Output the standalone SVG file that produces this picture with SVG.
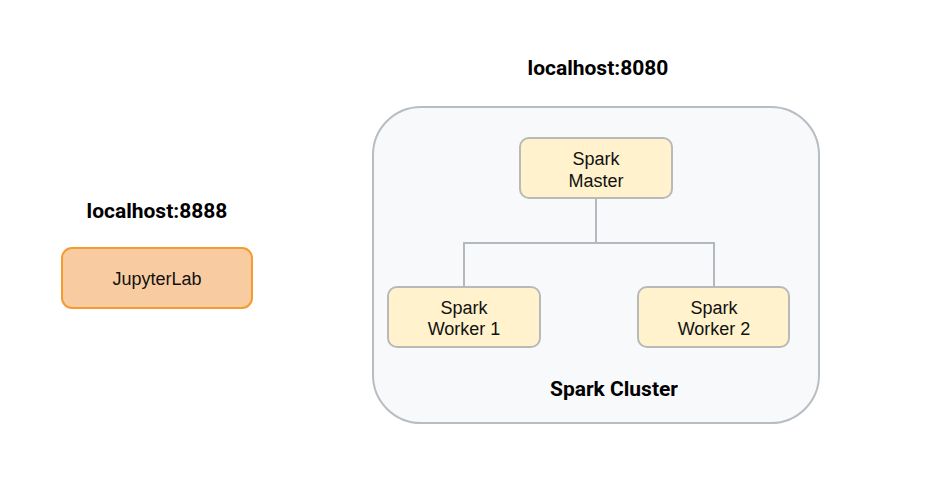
<svg xmlns="http://www.w3.org/2000/svg" width="931" height="495" viewBox="0 0 931 495">
<style>
.node{fill:#fff2cc;stroke:#b9b9b9;stroke-width:2}
.nt{font-family:"Liberation Sans",Arial,sans-serif;font-size:18px;fill:#111;text-anchor:middle}
.bt{font-family:Roboto,"Liberation Sans",sans-serif;font-weight:bold;font-size:21px;fill:#000;text-anchor:middle}
.conn{fill:none;stroke:#b4b9bf;stroke-width:2}
</style>
<rect width="931" height="495" fill="#ffffff"/>
<g id="cluster">
<rect x="373" y="107" width="446" height="316" rx="48" ry="48" fill="#f8f9fb" stroke="#b8bcc3" stroke-width="2"/>
<text class="bt" x="614" y="396">Spark Cluster</text>
</g>
<text class="bt" x="598" y="75">localhost:8080</text>
<text class="bt" x="157" y="218">localhost:8888</text>
<g id="connectors">
<path class="conn" d="M596 198 V243 M464 287 V243 H714 V287"/>
</g>
<g id="jupyterlab">
<rect x="62" y="248" width="190" height="60" rx="10" ry="10" fill="#f8cca0" stroke="#f59b30" stroke-width="2"/>
<text class="nt" x="157" y="285">JupyterLab</text>
</g>
<g id="spark-master">
<rect class="node" x="520" y="138" width="152" height="60" rx="9" ry="9"/>
<text class="nt" x="596" y="165">Spark</text>
<text class="nt" x="596" y="187">Master</text>
</g>
<g id="spark-worker-1">
<rect class="node" x="388" y="287" width="152" height="60" rx="9" ry="9"/>
<text class="nt" x="464" y="314">Spark</text>
<text class="nt" x="464" y="335">Worker 1</text>
</g>
<g id="spark-worker-2">
<rect class="node" x="638" y="287" width="151" height="60" rx="9" ry="9"/>
<text class="nt" x="714" y="314">Spark</text>
<text class="nt" x="714" y="335">Worker 2</text>
</g>
</svg>
